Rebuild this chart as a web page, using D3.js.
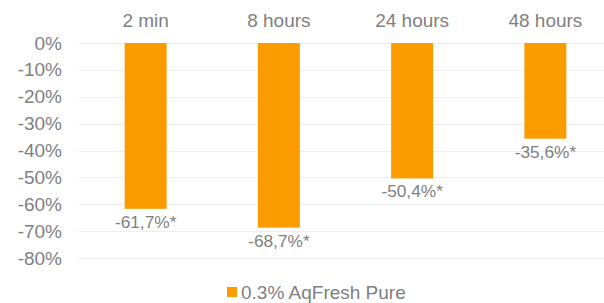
<!DOCTYPE html>
<html>
<head>
<meta charset="utf-8">
<script src="https://cdn.jsdelivr.net/npm/d3@7"></script>
<style>
  html, body { margin: 0; padding: 0; background: #fff; overflow: hidden; }
  svg text { font-family: "Liberation Sans", Arial, sans-serif; fill: #7f7f7f; }
</style>
</head>
<body>
<div id="chart"></div>
<script>
// Data
const categories = ["2 min", "8 hours", "24 hours", "48 hours"];
const values = [-61.7, -68.7, -50.4, -35.6];
const valueLabels = ["-61,7%*", "-68,7%*", "-50,4%*", "-35,6%*"];
const yTicks = [0, -10, -20, -30, -40, -50, -60, -70, -80];
const seriesName = "0.3% AqFresh Pure";

const width = 604, height = 303;
const barColor = "#fa9c00";

const svg = d3.select("#chart")
    .append("svg")
        .attr("width", width)
        .attr("height", height);

// Plot area runs past the right edge like in the original
let x = d3.scaleBand()
    .domain(categories)
    .range([79, 612])
    .paddingInner(0.685)
    .paddingOuter(0.3425);

let y = d3.scaleLinear()
    .domain([0, -80])
    .range([43, 258]);

// Gridlines
svg.append("g")
    .selectAll("line")
    .data(yTicks)
    .enter().append("line")
        .attr("x1", 79)
        .attr("x2", width)
        .attr("y1", d => Math.round(y(d)) + 0.5)
        .attr("y2", d => Math.round(y(d)) + 0.5)
        .attr("stroke", "#eeeeee")
        .attr("stroke-width", 1);

// Y axis labels
let yAxis = d3.axisLeft(y)
    .tickValues(yTicks)
    .tickFormat(d => d + "%")
    .tickSize(0)
    .tickPadding(0);

let gy = svg.append("g")
    .attr("transform", "translate(62,0)")
    .call(yAxis);
gy.select(".domain").remove();
gy.selectAll("text")
    .attr("font-size", 19)
    .attr("fill", "#7f7f7f");

// Bars
svg.append("g")
    .selectAll("rect")
    .data(values)
    .enter().append("rect")
        .attr("x", (d, i) => x(categories[i]))
        .attr("y", y(0))
        .attr("width", x.bandwidth())
        .attr("height", d => y(d) - y(0))
        .attr("fill", barColor);

// Value labels below bars
svg.append("g")
    .selectAll("text")
    .data(values)
    .enter().append("text")
        .attr("x", (d, i) => x(categories[i]) + x.bandwidth() / 2)
        .attr("y", d => y(d) + 19)
        .attr("text-anchor", "middle")
        .attr("font-size", 17.3)
        .text((d, i) => valueLabels[i]);

// Category labels on top
let xAxis = d3.axisTop(x).tickSize(0).tickPadding(0);
let gx = svg.append("g")
    .attr("transform", "translate(0,27)")
    .call(xAxis);
gx.select(".domain").remove();
gx.selectAll("text")
    .attr("font-size", 19)
    .attr("fill", "#7f7f7f")
    .attr("dy", 0);

// Legend
let legend = svg.append("g")
    .attr("transform", "translate(227,287)");
legend.append("rect")
    .attr("width", 10)
    .attr("height", 10)
    .attr("fill", barColor);
legend.append("text")
    .attr("x", 14)
    .attr("y", 11.5)
    .attr("font-size", 19)
    .text(seriesName);
</script>
</body>
</html>
